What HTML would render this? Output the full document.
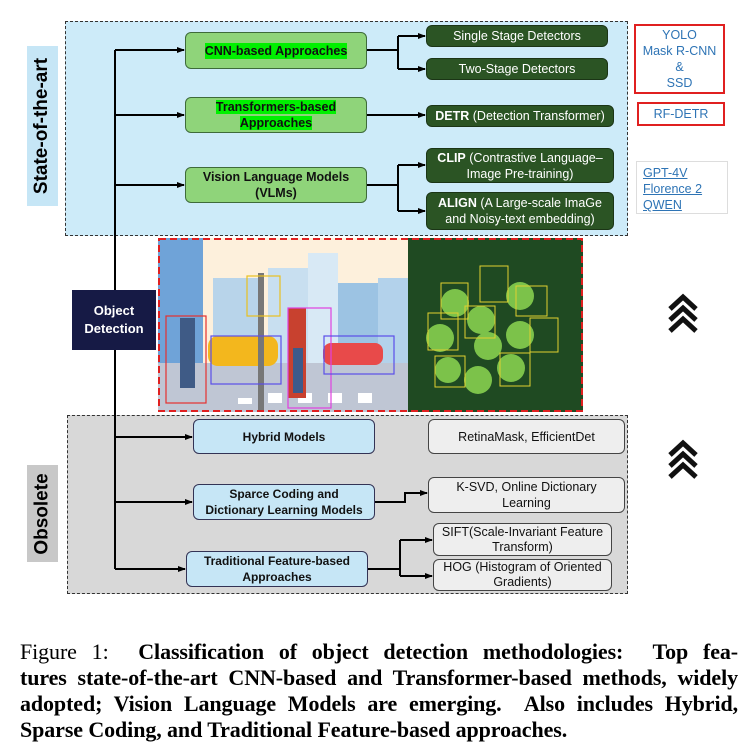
<!DOCTYPE html>
<html><head><meta charset="utf-8"><style>
body{margin:0;width:755px;height:745px;background:#fff;position:relative;overflow:hidden;font-family:"Liberation Sans",sans-serif}
.a{position:absolute;box-sizing:border-box}
.b{display:flex;align-items:center;justify-content:center;text-align:center;border-radius:6px}
.g{background:#8fd47a;border:1.5px solid #3e6b3a;font-weight:bold;font-size:12.5px;line-height:16px;color:#111}
.g span{background:#00f000}
.d{background:#2b5424;border:1.5px solid #1b3516;color:#fff;font-size:12.5px;line-height:16px}
.l{background:#c6e6f6;border:1.5px solid #335;font-weight:bold;font-size:12px;line-height:16px;color:#111}
.r{background:#eeeeee;border:1.5px solid #444;font-size:12.5px;line-height:16px;color:#111}
.cap{position:absolute;left:20px;width:718px;font-family:"Liberation Serif",serif;font-size:22px;line-height:24px;font-weight:bold;text-align:justify;text-align-last:justify;white-space:nowrap;letter-spacing:-0.1px}
</style></head><body>
<div class="a" style="left:65px;top:21px;width:563px;height:215px;background:#cdebf9;border:1.3px dashed #333"></div>
<div class="a" style="left:67px;top:415px;width:561px;height:179px;background:#d8d8d8;border:1.3px dashed #333"></div>
<div class="a" style="left:27px;top:46px;width:31px;height:160px;background:#c6e6f6"></div>
<div class="a" style="left:27px;top:46px;width:31px;height:160px;display:flex;align-items:center;justify-content:center"><div style="transform:rotate(-90deg);white-space:nowrap;font-weight:bold;font-size:19px">State-of-the-art</div></div>
<div class="a" style="left:27px;top:465px;width:31px;height:97px;background:#c8c8c8"></div>
<div class="a" style="left:27px;top:465px;width:31px;height:97px;display:flex;align-items:center;justify-content:center"><div style="transform:rotate(-90deg);white-space:nowrap;font-weight:bold;font-size:19px">Obsolete</div></div>

<svg class="a" style="left:0;top:0" width="755" height="640">
<defs><marker id="m" markerWidth="8" markerHeight="8" refX="7" refY="4" orient="auto" markerUnits="userSpaceOnUse"><path d="M0,1 L8,4 L0,7z" fill="#000"/></marker></defs>
<g stroke="#000" stroke-width="2" fill="none">
<path d="M115,50 V569"/>
<path d="M115,50 H184" marker-end="url(#m)"/>
<path d="M115,115 H184" marker-end="url(#m)"/>
<path d="M115,185 H184" marker-end="url(#m)"/>
<path d="M115,437 H192" marker-end="url(#m)"/>
<path d="M115,502 H192" marker-end="url(#m)"/>
<path d="M115,569 H185" marker-end="url(#m)"/>
<path d="M367,50 H398"/><path d="M398,36 V69"/>
<path d="M398,36 H425" marker-end="url(#m)"/><path d="M398,69 H425" marker-end="url(#m)"/>
<path d="M367,115 H425" marker-end="url(#m)"/>
<path d="M367,185 H398"/><path d="M398,165 V211"/>
<path d="M398,165 H425" marker-end="url(#m)"/><path d="M398,211 H425" marker-end="url(#m)"/>
<path d="M375,502 H405 V493 H427" marker-end="url(#m)"/>
<path d="M368,569 H400"/><path d="M400,540 V576"/>
<path d="M400,540 H432" marker-end="url(#m)"/><path d="M400,576 H432" marker-end="url(#m)"/>
</g>
<g fill="none" stroke="#111" stroke-width="5" stroke-linejoin="miter">
<path d="M670,309 L683,297 L696,309"/><path d="M670,320 L683,308 L696,320"/><path d="M670,331 L683,319 L696,331"/>
<path d="M670,455 L683,443 L696,455"/><path d="M670,466 L683,454 L696,466"/><path d="M670,477 L683,465 L696,477"/>
</g>
</svg>

<div class="a b g" style="left:185px;top:32px;width:182px;height:37px"><span>CNN-based Approaches</span></div>
<div class="a b g" style="left:185px;top:97px;width:182px;height:36px"><div><span>Transformers-based</span><br><span>Approaches</span></div></div>
<div class="a b g" style="left:185px;top:167px;width:182px;height:36px">Vision Language Models<br>(VLMs)</div>

<div class="a b d" style="left:426px;top:25px;width:182px;height:22px">Single Stage Detectors</div>
<div class="a b d" style="left:426px;top:58px;width:182px;height:22px">Two-Stage Detectors</div>
<div class="a b d" style="left:426px;top:105px;width:188px;height:22px"><span><b>DETR</b> (Detection Transformer)</span></div>
<div class="a b d" style="left:426px;top:148px;width:188px;height:35px"><span><b>CLIP</b> (Contrastive Language–<br>Image Pre-training)</span></div>
<div class="a b d" style="left:426px;top:192px;width:188px;height:38px"><span><b>ALIGN</b> (A Large-scale ImaGe<br>and Noisy-text embedding)</span></div>

<div class="a b" style="left:634px;top:24px;width:91px;height:70px;border:2px solid #e02020;border-radius:0;color:#2e74b5;font-size:12.5px;line-height:16px">YOLO<br>Mask R-CNN<br>&amp;<br>SSD</div>
<div class="a b" style="left:637px;top:102px;width:88px;height:24px;border:2px solid #e02020;border-radius:0;color:#2e74b5;font-size:12.5px">RF-DETR</div>
<div class="a" style="left:636px;top:161px;width:92px;height:53px;border:1px solid #ddd;color:#2e74b5;font-size:12.5px;line-height:16px;padding:3px 0 0 6px;text-decoration:underline">GPT-4V<br>Florence 2<br>QWEN</div>

<div class="a b" style="left:72px;top:290px;width:84px;height:60px;background:#161a45;border-radius:0;color:#fff;font-weight:bold;font-size:13px;line-height:18px">Object<br>Detection</div>

<svg class="a" style="left:158px;top:238px" width="425" height="174">
<rect width="250" height="174" fill="#fdf0dc"/>
<rect x="0" y="0" width="45" height="174" fill="#6fa3d8"/>
<rect x="55" y="40" width="45" height="90" fill="#b8d4ea"/>
<rect x="110" y="30" width="50" height="100" fill="#c8dff0"/>
<rect x="150" y="15" width="30" height="110" fill="#d8e9f5"/>
<rect x="180" y="45" width="40" height="80" fill="#9cc3e3"/>
<rect x="220" y="40" width="30" height="90" fill="#b3d2eb"/>
<rect x="0" y="125" width="250" height="49" fill="#bfc6d4"/>
<g fill="#fff"><rect x="80" y="160" width="14" height="6"/><rect x="110" y="155" width="14" height="10"/><rect x="140" y="155" width="14" height="10"/><rect x="170" y="155" width="14" height="10"/><rect x="200" y="155" width="14" height="10"/></g>
<rect x="50" y="98" width="70" height="30" rx="10" fill="#f3b71d"/>
<rect x="165" y="105" width="60" height="22" rx="8" fill="#e84a4a"/>
<rect x="130" y="70" width="18" height="90" fill="#c8412f"/>
<rect x="135" y="110" width="10" height="45" fill="#3d5a8a"/>
<rect x="22" y="80" width="15" height="70" fill="#3f5b86"/>
<rect x="100" y="35" width="6" height="140" fill="#777"/>
<g fill="none" stroke-width="1.2"><rect x="8" y="78" width="40" height="87" stroke="#e53030"/><rect x="53" y="98" width="70" height="48" stroke="#5b4ee8"/><rect x="130" y="70" width="43" height="100" stroke="#e040e0"/><rect x="166" y="98" width="70" height="38" stroke="#5b4ee8"/><rect x="89" y="38" width="33" height="40" stroke="#e8c020"/></g>
<rect x="250" y="0" width="175" height="174" fill="#1f4a22"/>
<g fill="#7cc24a"><circle cx="297" cy="65" r="14"/><circle cx="323" cy="82" r="14"/><circle cx="362" cy="58" r="14"/><circle cx="282" cy="100" r="14"/><circle cx="330" cy="108" r="14"/><circle cx="362" cy="97" r="14"/><circle cx="290" cy="132" r="13"/><circle cx="320" cy="142" r="14"/><circle cx="353" cy="130" r="14"/></g>
<g fill="none" stroke="#e0d030" stroke-width="1"><rect x="283" y="45" width="27" height="36"/><rect x="322" y="28" width="28" height="36"/><rect x="358" y="48" width="31" height="30"/><rect x="270" y="75" width="30" height="37"/><rect x="307" y="68" width="30" height="32"/><rect x="372" y="80" width="28" height="34"/><rect x="277" y="118" width="30" height="31"/><rect x="342" y="115" width="30" height="33"/></g>
<rect x="1" y="1" width="423" height="172" fill="none" stroke="#e02020" stroke-width="2" stroke-dasharray="7,4"/>
</svg>

<div class="a b l" style="left:193px;top:419px;width:182px;height:35px">Hybrid Models</div>
<div class="a b l" style="left:193px;top:484px;width:182px;height:36px">Sparce Coding and<br>Dictionary Learning Models</div>
<div class="a b l" style="left:186px;top:551px;width:182px;height:36px">Traditional Feature-based<br>Approaches</div>
<div class="a b r" style="left:428px;top:419px;width:197px;height:35px">RetinaMask, EfficientDet</div>
<div class="a b r" style="left:428px;top:477px;width:197px;height:36px">K-SVD, Online Dictionary<br>Learning</div>
<div class="a b r" style="left:433px;top:523px;width:179px;height:33px;line-height:15px">SIFT(Scale-Invariant Feature<br>Transform)</div>
<div class="a b r" style="left:433px;top:559px;width:179px;height:32px;line-height:15px">HOG (Histogram of Oriented<br>Gradients)</div>

<div class="cap" style="top:640px"><span style="font-weight:normal">Figure 1:</span>&nbsp; Classification of object detection methodologies:&nbsp; Top fea-</div>
<div class="cap" style="top:666px">tures state-of-the-art CNN-based and Transformer-based methods, widely</div>
<div class="cap" style="top:692px">adopted; Vision Language Models are emerging.&nbsp; Also includes Hybrid,</div>
<div class="cap" style="top:718px;text-align-last:left">Sparse Coding, and Traditional Feature-based approaches.</div>
</body></html>
